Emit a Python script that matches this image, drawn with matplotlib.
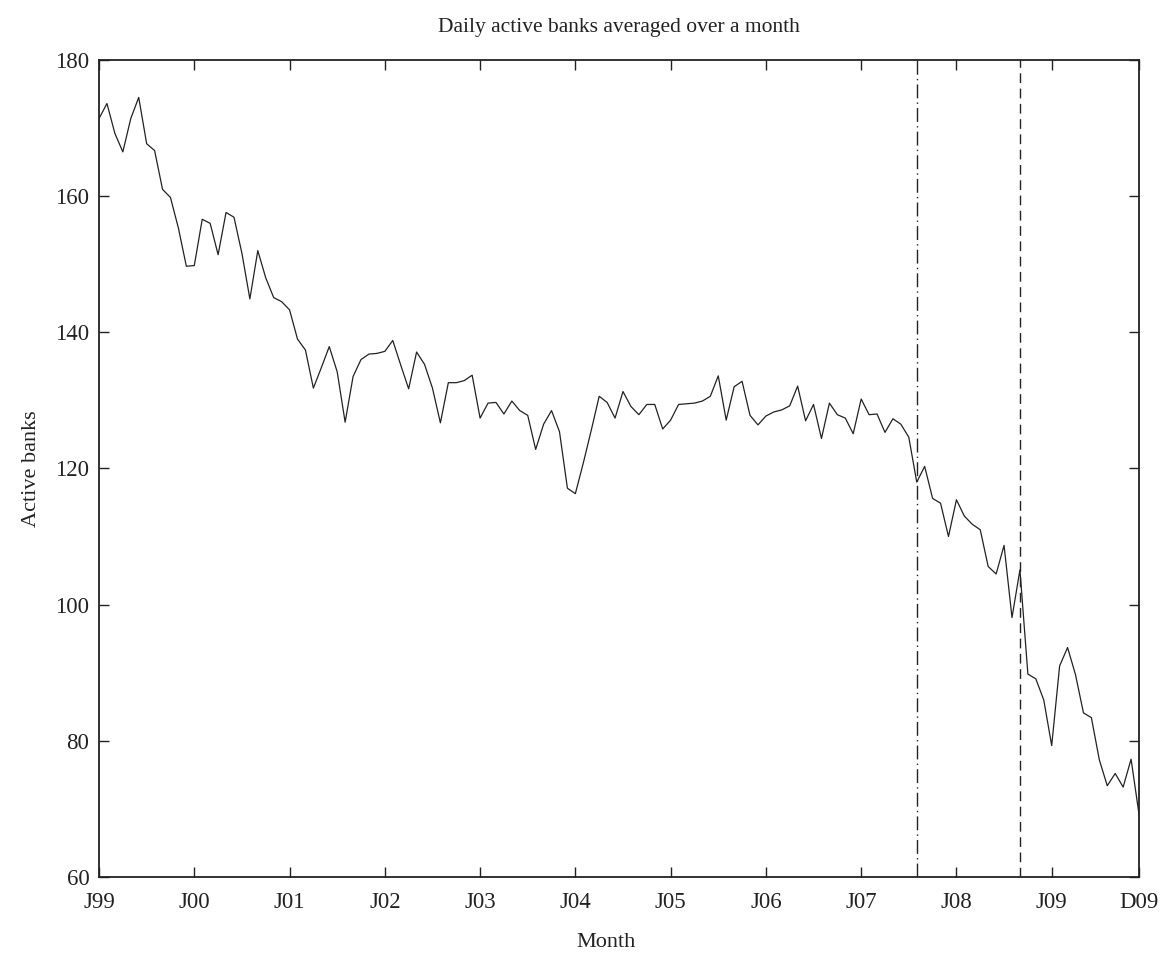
import matplotlib
matplotlib.use("Agg")
import matplotlib.pyplot as plt

# Monthly average of daily active banks, Jan 1999 .. Dec 2009
active = [
    171.4, 173.6, 169.2, 166.5, 171.4, 174.5, 167.7, 166.7, 161.0, 159.8, 155.3, 149.7,
    149.8, 156.6, 156.0, 151.4, 157.6, 156.9, 151.6, 144.9, 152.0, 148.0, 145.1, 144.5,
    143.3, 139.0, 137.4, 131.8, 134.8, 137.9, 134.2, 126.8, 133.5, 136.0, 136.8, 136.9,
    137.2, 138.8, 135.2, 131.7, 137.1, 135.3, 131.8, 126.7, 132.6, 132.6, 132.9, 133.7,
    127.4, 129.6, 129.7, 128.0, 129.9, 128.5, 127.8, 122.8, 126.5, 128.5, 125.4, 117.1,
    116.3, 120.8, 125.6, 130.6, 129.7, 127.4, 131.3, 129.1, 127.9, 129.4, 129.4, 125.8,
    127.1, 129.4, 129.5, 129.6, 129.9, 130.6, 133.6, 127.1, 132.0, 132.8, 127.8, 126.4,
    127.7, 128.3, 128.6, 129.2, 132.1, 127.0, 129.4, 124.4, 129.6, 127.9, 127.4, 125.1,
    130.2, 127.9, 128.0, 125.3, 127.3, 126.5, 124.6, 118.0, 120.3, 115.6, 114.9, 110.0,
    115.4, 113.0, 111.8, 111.0, 105.6, 104.5, 108.7, 98.1, 105.1, 89.8, 89.1, 86.0,
    79.3, 91.0, 93.7, 89.7, 84.1, 83.4, 77.2, 73.4, 75.2, 73.2, 77.3, 69.2,
]
months = list(range(len(active)))

tick_pos = [0, 12, 24, 36, 48, 60, 72, 84, 96, 108, 120, 131]
tick_labels = ["J99", "J00", "J01", "J02", "J03", "J04", "J05", "J06", "J07", "J08", "J09", "D09"]

event_dashdot = 103  # Aug 2007
event_dashed = 116   # Sep 2008

plt.rcParams['font.family'] = ['Liberation Serif', 'DejaVu Serif']

fig = plt.figure(figsize=(11.65, 9.58), dpi=100)
ax = fig.add_axes([0.085, 0.0846, 0.8927, 0.8528])

ax.plot(months, active, color='#222222', linewidth=0.9)
ax.axvline(event_dashdot, color='#222222', linewidth=1.0, linestyle=(0, (10, 3, 1, 3)))
ax.axvline(event_dashed, color='#222222', linewidth=1.0, linestyle=(0, (7, 4)))

ax.set_xlim(0, 131)
ax.set_ylim(60, 180)
ax.set_xticks(tick_pos)
ax.set_xticklabels(tick_labels)
ax.set_yticks([60, 80, 100, 120, 140, 160, 180])

ax.tick_params(direction='in', length=7, width=1, top=True, right=True,
               labelsize=16.5, colors='#222222')
ax.tick_params(axis='x', pad=11)
ax.tick_params(axis='y', pad=7)
for s in ax.spines.values():
    s.set_linewidth(1.3)
    s.set_color('#222222')

ax.set_title("Daily active banks averaged over a month", fontsize=15.5, pad=20, color='#222222')
ax.set_xlabel("Month", fontsize=16, labelpad=16, color='#222222')
ax.xaxis.set_label_coords(0.4875, -0.068)
ax.set_ylabel("Active banks", fontsize=16, labelpad=10, color='#222222')

fig.savefig("out.png", dpi=100)
